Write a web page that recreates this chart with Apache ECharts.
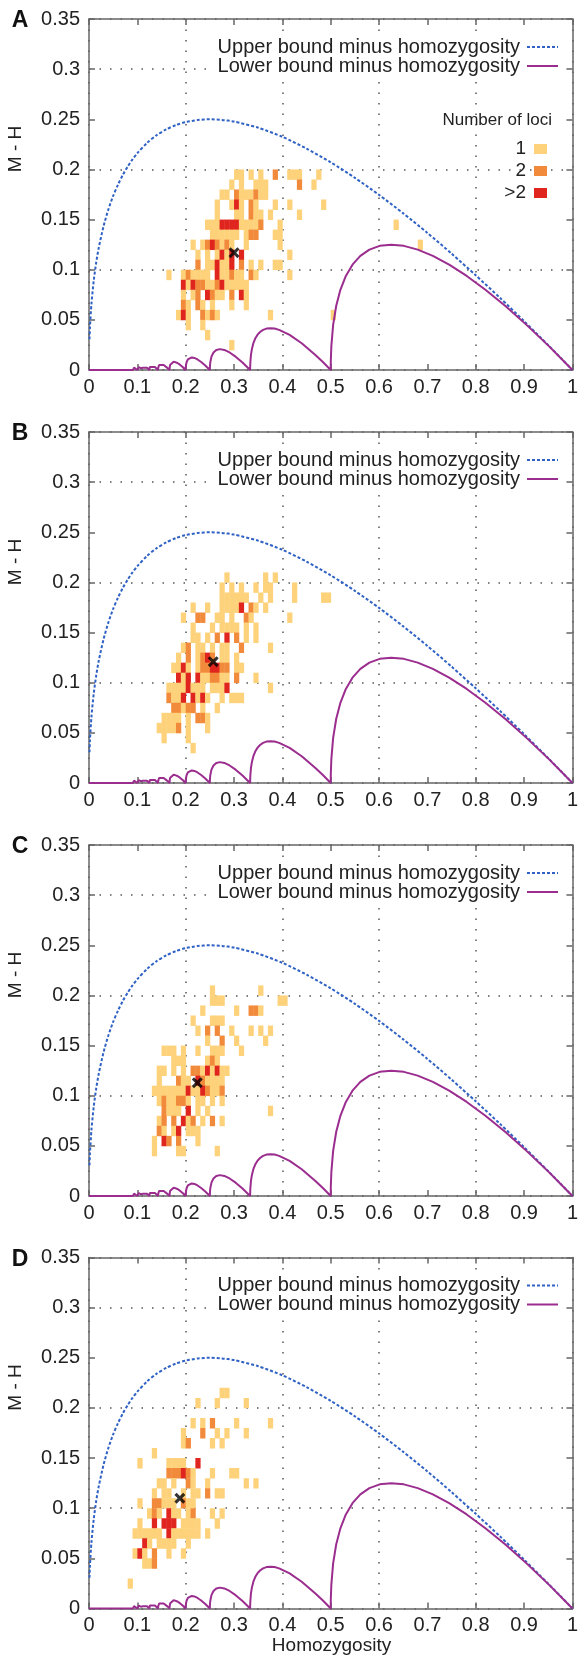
<!DOCTYPE html>
<html><head><meta charset="utf-8">
<script src="https://cdn.jsdelivr.net/npm/echarts@6/dist/echarts.min.js"></script>
<style>html,body{margin:0;padding:0;background:#fff}#c{width:581px;height:1661px}</style>
</head><body><div id="c"></div>
<script>
// ---------- data ----------
const panelLetters = ['A', 'B', 'C', 'D'];
const xTitle = 'Homozygosity';
const yTitle = 'M - H';
const legendLabels = ['Upper bound minus homozygosity', 'Lower bound minus homozygosity'];
const lociTitle = 'Number of loci';
const lociLabels = ['1', '2', '>2'];

// Upper bound minus homozygosity
const upperH = [0.001,0.002,0.005,0.01,0.015,0.02,0.03,0.04,0.05,0.06,0.07,0.08,0.09,0.1,0.12,0.14,0.16,0.18,0.2,0.225,0.25,0.275,0.3,0.35,0.4,0.45,0.5,0.55,0.6,0.65,0.7,0.75,0.8,0.85,0.9,0.95,0.975,1.0];
const upperMH = [0.0306,0.0427,0.0657,0.0900,0.1075,0.1214,0.1432,0.1600,0.1736,0.1849,0.1946,0.2028,0.2100,0.2162,0.2264,0.2342,0.2400,0.2443,0.2472,0.2493,0.2500,0.2494,0.2477,0.2416,0.2325,0.2208,0.2071,0.1916,0.1746,0.1562,0.1367,0.1160,0.0944,0.0720,0.0487,0.0247,0.0124,0];

// Lower bound minus homozygosity (scalloped purple curve), [H, M-H]
const lowerCurve = [
  [0,0],[0.0769,0],[0.0785,0.0016],[0.0833,0],
  [0.0852,0.0019],[0.0909,0],
  [0.0913,0.0015],[0.0932,0.0023],[0.0967,0.0015],[0.1,0],
  [0.1004,0.0018],[0.1028,0.0028],[0.1071,0.0018],[0.1111,0],
  [0.1117,0.0022],[0.1146,0.0035],[0.12,0.0022],[0.125,0],
  [0.1257,0.0029],[0.1295,0.0045],[0.1364,0.0029],[0.1429,0],
  [0.1431,0.0021],[0.1438,0.0038],[0.145,0.005],[0.1488,0.006],[0.1545,0.005],[0.1581,0.0038],[0.1621,0.0021],[0.1667,0],
  [0.167,0.003],[0.168,0.0053],[0.1697,0.007],[0.175,0.0083],[0.183,0.007],[0.188,0.0053],[0.1937,0.003],[0.2,0],
  [0.2001,0.0024],[0.2005,0.0045],[0.202,0.008],[0.2045,0.0105],[0.208,0.012],[0.2125,0.0125],[0.218,0.012],[0.2245,0.0105],[0.232,0.008],[0.2405,0.0045],[0.25,0],
  [0.2502,0.004],[0.2508,0.0075],[0.2533,0.0133],[0.2575,0.0175],[0.2633,0.02],[0.2708,0.0208],[0.28,0.02],[0.2908,0.0175],[0.3033,0.0133],[0.3175,0.0075],[0.3333,0],
  [0.3334,0.0033],[0.3338,0.0079],[0.335,0.015],[0.3371,0.0213],[0.34,0.0267],[0.3438,0.0313],[0.3483,0.035],[0.3538,0.0379],[0.36,0.04],[0.3671,0.0413],[0.375,0.0417],[0.3838,0.0413],[0.3933,0.04],[0.415,0.035],[0.44,0.0267],[0.4683,0.015],[0.4838,0.0079],[0.5,0],
  [0.5002,0.0098],[0.5013,0.0238],[0.505,0.045],[0.5113,0.0638],[0.52,0.08],[0.5313,0.0938],[0.545,0.105],[0.5613,0.1138],[0.58,0.12],[0.6013,0.1238],[0.625,0.125],[0.6513,0.1238],[0.68,0.12],[0.7113,0.1138],[0.745,0.105],[0.7813,0.0938],[0.82,0.08],[0.8613,0.0638],[0.905,0.045],[0.9513,0.0238],[1,0]
];

// Heatmap cells: [x bin start, y bin start, number-of-loci class], bins in hundredths (0.01 wide)
const cellsA = [
  [30,19,1],[31,19,1],[33,19,1],[35,19,1],[38,19,2],[41,19,1],[42,19,1],[43,19,1],[47,19,1],
  [29,18,1],[31,18,1],[34,18,1],[35,18,1],[36,18,1],[43,18,2],[46,18,1],
  [27,17,1],[28,17,1],[30,17,2],[31,17,1],[32,17,1],[33,17,1],[34,17,2],[35,17,1],[36,17,1],
  [26,16,1],[29,16,1],[30,16,3],[31,16,1],[33,16,2],[34,16,1],[38,16,1],[41,16,1],[48,16,1],
  [26,15,1],[30,15,1],[31,15,1],[33,15,2],[34,15,1],[35,15,1],[37,15,1],[43,15,1],
  [24,14,1],[25,14,1],[26,14,1],[27,14,3],[28,14,3],[29,14,3],[30,14,3],[31,14,1],[32,14,1],[33,14,1],[34,14,1],[35,14,2],[39,14,1],[63,14,1],
  [25,13,1],[26,13,1],[27,13,1],[28,13,1],[29,13,1],[30,13,1],[32,13,1],[33,13,2],[34,13,2],[38,13,1],[39,13,1],
  [21,12,1],[23,12,1],[24,12,2],[25,12,3],[26,12,2],[27,12,1],[28,12,2],[29,12,1],[32,12,1],[39,12,1],[68,12,1],
  [22,11,1],[24,11,1],[26,11,1],[27,11,3],[28,11,1],[29,11,3],[31,11,3],[41,11,1],
  [22,10,2],[24,10,1],[25,10,1],[26,10,3],[27,10,1],[28,10,1],[29,10,3],[31,10,2],[33,10,1],[35,10,1],[38,10,1],[39,10,1],
  [16,9,1],[19,9,1],[20,9,2],[21,9,1],[22,9,1],[23,9,1],[24,9,1],[26,9,3],[27,9,1],[28,9,1],[29,9,2],[30,9,1],[31,9,1],[33,9,2],[34,9,1],[41,9,1],
  [19,8,3],[20,8,1],[21,8,3],[22,8,2],[23,8,2],[24,8,1],[25,8,1],[26,8,2],[27,8,3],[28,8,1],[29,8,1],[30,8,1],[31,8,1],[32,8,1],
  [19,7,1],[21,7,1],[22,7,2],[24,7,3],[25,7,2],[26,7,1],[27,7,1],[29,7,2],[31,7,3],[32,7,1],
  [19,6,2],[20,6,1],[22,6,2],[23,6,1],[25,6,1],[29,6,1],[32,6,1],
  [18,5,1],[19,5,3],[20,5,1],[23,5,2],[24,5,1],[25,5,2],[26,5,1],[37,5,1],[50,5,1],
  [20,4,1],[23,4,1],
  [24,3,1],
  [29,2,1]
];
const cellsB = [
  [28,20,1],[36,20,1],[38,20,1],
  [27,19,1],[29,19,1],[31,19,1],[34,19,1],[36,19,1],[37,19,1],[42,19,1],
  [27,18,1],[28,18,1],[29,18,1],[30,18,1],[31,18,1],[32,18,1],[35,18,1],[37,18,1],[42,18,1],[48,18,1],[49,18,1],
  [21,17,1],[24,17,1],[27,17,1],[28,17,1],[29,17,1],[30,17,1],[31,17,3],[33,17,2],[34,17,1],[36,17,1],
  [19,16,1],[22,16,2],[23,16,2],[26,16,1],[27,16,1],[29,16,1],[32,16,2],[33,16,1],[41,16,1],
  [21,15,1],[25,15,1],[27,15,1],[28,15,1],[29,15,1],[30,15,1],[32,15,1],[34,15,1],
  [21,14,1],[22,14,1],[24,14,1],[26,14,2],[28,14,3],[30,14,2],[32,14,1],[34,14,1],
  [19,13,1],[20,13,2],[22,13,1],[23,13,1],[25,13,1],[27,13,1],[28,13,1],[31,13,2],[37,13,1],
  [18,12,1],[20,12,2],[22,12,1],[23,12,2],[24,12,3],[25,12,2],[27,12,1],[28,12,1],[30,12,1],
  [17,11,1],[18,11,1],[19,11,3],[20,11,1],[22,11,1],[23,11,2],[24,11,2],[25,11,3],[26,11,3],[27,11,2],[28,11,2],[30,11,1],[31,11,1],
  [18,10,3],[19,10,1],[20,10,3],[22,10,3],[23,10,1],[24,10,1],[25,10,2],[26,10,2],[27,10,1],[28,10,1],[30,10,2],[34,10,1],
  [16,9,1],[17,9,1],[18,9,1],[19,9,1],[20,9,3],[21,9,1],[22,9,1],[23,9,1],[25,9,1],[26,9,1],[27,9,1],[28,9,3],[37,9,1],
  [16,8,2],[17,8,1],[18,8,1],[19,8,3],[21,8,3],[22,8,1],[23,8,3],[24,8,1],[27,8,1],[29,8,1],[30,8,1],[31,8,1],
  [17,7,2],[18,7,2],[19,7,1],[20,7,2],[21,7,2],[23,7,1],[26,7,1],
  [15,6,1],[16,6,1],[17,6,1],[18,6,1],[20,6,1],[22,6,2],[23,6,2],[24,6,1],
  [14,5,1],[15,5,1],[16,5,1],[17,5,1],[18,5,2],[20,5,1],[24,5,1],
  [15,4,1],[20,4,1],
  [21,3,1]
];
const cellsC = [
  [25,20,1],[35,20,1],
  [25,19,1],[26,19,1],[27,19,1],[39,19,1],[40,19,1],
  [23,18,1],[30,18,1],[33,18,2],[34,18,2],[35,18,1],
  [21,17,1],[25,17,1],[26,17,1],[27,17,1],
  [22,16,1],[24,16,2],[26,16,2],[29,16,1],[33,16,1],[35,16,1],[37,16,1],
  [24,15,1],[27,15,2],[30,15,1],[36,15,1],
  [15,14,1],[16,14,1],[17,14,1],[19,14,1],[22,14,1],[25,14,1],[26,14,1],[27,14,1],[31,14,1],
  [17,13,1],[18,13,1],[19,13,1],[24,13,1],[25,13,2],[26,13,1],
  [14,12,1],[15,12,1],[17,12,1],[19,12,1],[21,12,2],[22,12,2],[23,12,1],[24,12,3],[25,12,1],[26,12,3],[27,12,1],[28,12,1],
  [14,11,1],[18,11,2],[19,11,1],[20,11,1],[22,11,3],[23,11,2],[24,11,1],[25,11,1],[26,11,1],[27,11,1],
  [13,10,1],[14,10,1],[15,10,1],[16,10,1],[17,10,1],[18,10,1],[19,10,1],[20,10,3],[21,10,1],[22,10,1],[23,10,3],[24,10,2],[25,10,1],[26,10,1],[27,10,2],
  [14,9,1],[15,9,2],[16,9,1],[17,9,1],[18,9,2],[19,9,2],[20,9,1],[22,9,1],[23,9,1],[25,9,1],[27,9,1],
  [15,8,2],[16,8,1],[17,8,1],[18,8,1],[20,8,3],[22,8,1],[24,8,1],[37,8,1],
  [14,7,1],[15,7,2],[17,7,2],[19,7,3],[20,7,1],[21,7,2],[23,7,1],[25,7,2],[27,7,1],
  [14,6,2],[15,6,1],[17,6,1],[18,6,3],[20,6,1],[21,6,1],[22,6,1],
  [13,5,1],[15,5,3],[16,5,2],[18,5,2],[22,5,1],
  [13,4,1],[18,4,1],[19,4,1],[26,4,1]
];
const cellsD = [
  [27,21,1],[28,21,1],
  [22,20,1],[26,20,1],[32,20,1],
  [21,18,1],[23,18,1],[25,18,2],[30,18,1],[37,18,1],
  [19,17,1],[23,17,2],[26,17,1],[28,17,1],[32,17,1],
  [19,16,1],[20,16,2],[25,16,1],[27,16,1],
  [13,15,1],
  [10,14,1],[16,14,1],[17,14,1],[18,14,1],[19,14,1],[22,14,3],
  [16,13,2],[17,13,2],[18,13,2],[19,13,3],[20,13,2],[21,13,1],[25,13,1],[29,13,1],[30,13,1],
  [14,12,1],[15,12,1],[17,12,1],[20,12,2],[21,12,1],[24,12,1],[32,12,1],[34,12,1],
  [13,11,1],[15,11,1],[16,11,1],[19,11,1],[21,11,1],[22,11,1],[24,11,2],[26,11,1],[27,11,1],
  [10,10,1],[13,10,2],[14,10,2],[15,10,1],[16,10,1],[17,10,1],[19,10,2],[20,10,1],[21,10,1],
  [12,9,1],[13,9,2],[14,9,1],[16,9,3],[17,9,1],[18,9,1],[20,9,1],[21,9,2],[25,9,1],[27,9,1],
  [10,8,1],[13,8,3],[15,8,3],[16,8,3],[17,8,3],[19,8,1],[20,8,1],[21,8,1],[22,8,1],[26,8,1],
  [9,7,1],[10,7,1],[11,7,1],[12,7,1],[13,7,1],[14,7,1],[16,7,3],[17,7,1],[18,7,1],[19,7,1],[20,7,1],[21,7,1],[22,7,1],[24,7,1],
  [11,6,3],[12,6,1],[14,6,1],[15,6,1],[16,6,1],[17,6,1],[20,6,1],
  [9,5,1],[10,5,3],[11,5,1],[13,5,2],[16,5,1],[19,5,1],
  [11,4,1],[12,4,1],[13,4,2],
  [8,2,1]
];
// Mean of each panel (black cross)
const meanPoints = [[0.300,0.117],[0.257,0.121],[0.224,0.113],[0.188,0.110]];

// ---------- styling / layout ----------
const FONT = '"Liberation Sans", Arial, Helvetica, sans-serif';
const CELL_COLORS = ['#FDD27A', '#F28A3C', '#E0241E'];
const BLUE = '#2F62C4', PURPLE = '#9B2D8F', AXIS = '#666', TXT = '#222';
const tops = [19, 432, 845, 1257.5];
const GL = 89, GW = 485, GH = 351;

const chart = echarts.init(document.getElementById('c'), null, {renderer: 'canvas'});
const grids = [], xAxes = [], yAxes = [], series = [], graphics = [];
const panels = [cellsA, cellsB, cellsC, cellsD];
const fmt = v => String(+v.toFixed(2));
const axLine = {show: true, onZero: false, lineStyle: {color: AXIS, width: 1.5}};
const tick = {show: true, inside: true, length: 6, lineStyle: {color: AXIS, width: 1.5}};
const gridLine = {show: true, lineStyle: {color: '#555', width: 1.5, type: [1.5, 9]}};
const none = {show: false};

for (let p = 0; p < 4; p++) {
  const top = tops[p];
  grids.push({left: GL, top: top, width: GW, height: GH});
  xAxes.push({type: 'value', gridIndex: p, position: 'bottom', min: 0, max: 1, interval: 0.1,
    axisLine: axLine, axisTick: tick, splitLine: none,
    axisLabel: {show: true, margin: 7, fontSize: 20, fontFamily: FONT, color: TXT, formatter: fmt, showMinLabel: true, showMaxLabel: true}});
  xAxes.push({type: 'value', gridIndex: p, position: 'top', min: 0, max: 1, interval: 0.1,
    axisLine: axLine, axisTick: tick, axisLabel: none, splitLine: none});
  xAxes.push({type: 'value', gridIndex: p, position: 'bottom', min: 0, max: 1, interval: 0.2,
    axisLine: none, axisTick: none, axisLabel: none, splitLine: gridLine});
  yAxes.push({type: 'value', gridIndex: p, position: 'left', min: 0, max: 0.35, interval: 0.05,
    axisLine: axLine, axisTick: tick, splitLine: none,
    axisLabel: {show: true, margin: 9, fontSize: 20, fontFamily: FONT, color: TXT, formatter: fmt, showMinLabel: true, showMaxLabel: true}});
  yAxes.push({type: 'value', gridIndex: p, position: 'right', min: 0, max: 0.35, interval: 0.05,
    axisLine: axLine, axisTick: tick, axisLabel: none, splitLine: none});
  yAxes.push({type: 'value', gridIndex: p, position: 'left', min: 0, max: 0.35, interval: 0.1,
    axisLine: none, axisTick: none, axisLabel: none, splitLine: gridLine});

  const xi = 3 * p, yi = 3 * p;
  series.push({
    type: 'custom', xAxisIndex: xi, yAxisIndex: yi, z: 2, clip: true,
    data: panels[p],
    renderItem: function (params, api) {
      const x = api.value(0) / 100, y = api.value(1) / 100, n = api.value(2);
      const a = api.coord([x, y + 0.01]);
      const b = api.coord([x + 0.01, y]);
      return {type: 'rect', shape: {x: a[0], y: a[1], width: b[0] - a[0] + 0.4, height: b[1] - a[1] + 0.4},
        style: {fill: CELL_COLORS[n - 1]}};
    }
  });
  series.push({
    type: 'line', xAxisIndex: xi, yAxisIndex: yi, z: 4, showSymbol: false, smooth: 0.25, silent: true,
    data: upperH.map((h, i) => [h, upperMH[i]]),
    lineStyle: {color: BLUE, width: 2, type: [3, 2]}
  });
  series.push({
    type: 'line', xAxisIndex: xi, yAxisIndex: yi, z: 4, showSymbol: false, smooth: false, silent: true,
    data: lowerCurve,
    lineStyle: {color: PURPLE, width: 2}
  });
  series.push({
    type: 'scatter', xAxisIndex: xi, yAxisIndex: yi, z: 5, silent: true,
    data: [meanPoints[p]],
    symbol: 'path://M2,0 L5,3 L8,0 L10,2 L7,5 L10,8 L8,10 L5,7 L2,10 L0,8 L3,5 L0,2 Z',
    symbolSize: 11, itemStyle: {color: '#000'}
  });

  // panel letter
  graphics.push({type: 'text', x: 20, y: top + 2, style: {text: panelLetters[p], font: 'bold 23px ' + FONT, fill: '#111', textAlign: 'center', textVerticalAlign: 'middle'}});
  // y title
  graphics.push({type: 'text', x: 16, y: top + 130, rotation: Math.PI / 2, style: {text: yTitle, font: '19px ' + FONT, fill: TXT, textAlign: 'center', textVerticalAlign: 'middle'}});
  // line legend with opaque box (hides grid dots like the original)
  const ly = [top + 28, top + 47];
  graphics.push({type: 'rect', z: 10, shape: {x: 214, y: top + 16, width: 350, height: 43}, style: {fill: '#fff'}});
  graphics.push({type: 'text', z: 11, x: 520, y: ly[0], style: {text: legendLabels[0], font: '20px ' + FONT, fill: TXT, textAlign: 'right', textVerticalAlign: 'middle'}});
  graphics.push({type: 'line', z: 11, shape: {x1: 527, y1: ly[0], x2: 558, y2: ly[0]}, style: {stroke: BLUE, lineWidth: 2, lineDash: [3, 2]}});
  graphics.push({type: 'text', z: 11, x: 520, y: ly[1], style: {text: legendLabels[1], font: '20px ' + FONT, fill: TXT, textAlign: 'right', textVerticalAlign: 'middle'}});
  graphics.push({type: 'line', z: 11, shape: {x1: 527, y1: ly[1], x2: 558, y2: ly[1]}, style: {stroke: PURPLE, lineWidth: 2}});
}
// Number of loci legend (panel A)
graphics.push({type: 'text', z: 11, x: 552, y: 120, style: {text: lociTitle, font: '17px ' + FONT, fill: TXT, textAlign: 'right', textVerticalAlign: 'middle'}});
[149, 171, 193].forEach((cy, i) => {
  graphics.push({type: 'text', z: 11, x: 526, y: cy, style: {text: lociLabels[i], font: '19px ' + FONT, fill: TXT, textAlign: 'right', textVerticalAlign: 'middle'}});
  graphics.push({type: 'rect', z: 11, shape: {x: 534, y: cy - 5, width: 13, height: 10}, style: {fill: CELL_COLORS[i]}});
});
// x title
graphics.push({type: 'text', x: GL + GW / 2, y: 1646, style: {text: xTitle, font: '19px ' + FONT, fill: TXT, textAlign: 'center', textVerticalAlign: 'middle'}});

chart.setOption({
  backgroundColor: '#fff',
  animation: false,
  grid: grids, xAxis: xAxes, yAxis: yAxes, series: series, graphic: graphics
});
</script>
</body></html>
